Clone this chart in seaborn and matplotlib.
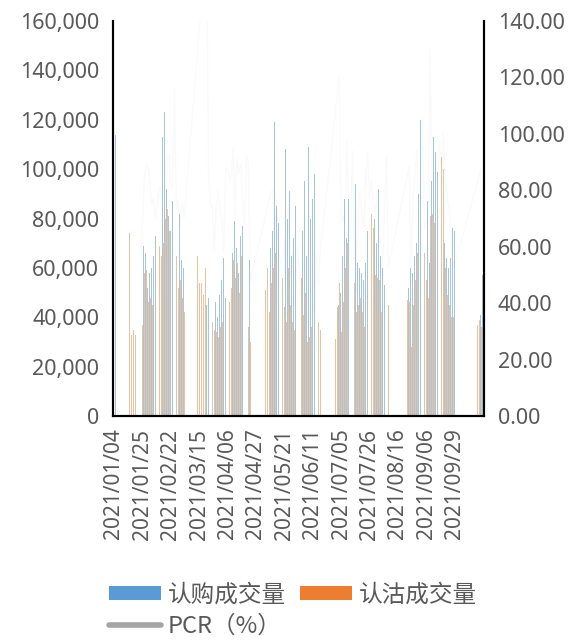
import numpy as np
import pandas as pd
import matplotlib
matplotlib.use("Agg")
import matplotlib.pyplot as plt
import seaborn as sns
from matplotlib.patches import Patch
from matplotlib.lines import Line2D
from matplotlib.ticker import FuncFormatter

sns.set_theme(style="white")
plt.rcParams['font.family'] = ['Noto Sans', 'Noto Sans CJK SC', 'DejaVu Sans']

# ---- trading calendar (SSE 2021) ----
holidays = pd.to_datetime([
    "2021-02-11", "2021-02-12", "2021-02-15", "2021-02-16", "2021-02-17",
    "2021-04-05", "2021-05-03", "2021-05-04", "2021-05-05", "2021-06-14",
    "2021-09-20", "2021-09-21", "2021-10-01", "2021-10-04", "2021-10-05",
    "2021-10-06", "2021-10-07"])
days = pd.bdate_range("2021-01-04", "2021-10-27")
days = days[~days.isin(holidays)]
dates = [d.strftime("%Y/%m/%d") for d in days]

nan = np.nan
# call volume (认购成交量), in thousands
call_k = [
    95, 114, nan, nan, nan, nan, nan, nan, nan, nan,            # 0-9
    nan, nan, nan, nan, 70, 56, 69, 66, 52, 58,                 # 10-19
    60, 65, 73, 70, 85, 80, 113, 123, 92, 81,                   # 20-29
    75, 87, 70, 89, 68, 82, 63, 60, nan, nan,                   # 30-39
    nan, nan, nan, nan, nan, nan, nan, nan, nan, 45,            # 40-49
    48, 48, 51, 60, 46, 40, 49, 55, 64, 48,                     # 50-59
    50, 55, 61, 66, 79, 68, 58, 73, 77, 67,                     # 60-69
    41, 40, 63, nan, nan, nan, nan, nan, nan, nan,              # 70-79
    nan, nan, nan, 68, 75, 119, 85, 78, 92, 103,                # 80-89
    70, 108, 80, 91, 65, 72, 85, 60, 78, 121,                   # 90-99
    75, 95, 65, 109, 80, 88, 98, 70, 82, 60,                    # 100-109
    nan, nan, nan, nan, nan, nan, nan, nan, nan, 45,            # 110-119
    50, 65, 88, 72, 88, 109, 66, 82, 94, 62,                    # 120-129
    60, 58, 55, 62, 75, 110, 98, 100, 80, 70,                   # 130-139
    92, 65, 60, 53, 53, 85, nan, nan, nan, nan,                 # 140-149
    nan, nan, nan, nan, nan, nan, 52, 60, 58, 65,               # 150-159
    70, 90, 120, 72, 100, 80, 87, 62, 95, 113,                  # 160-169
    107, 99, 88, 119, 100, 70, 64, 60, 64, 76,                  # 170-179
    75, nan, nan, nan, nan, nan, nan, nan, nan, nan,            # 180-189
    nan, nan, nan, nan, 41, 57]                                 # 190-195
# put volume (认沽成交量), in thousands
put_k = [
    nan, nan, nan, nan, nan, nan, nan, nan, 74, 33,             # 0-9
    35, 33, 43, 36, 40, 37, 58, 59, 46, 48,                     # 10-19
    45, 50, 51, 53, 69, 65, 70, 80, 84, 75,                     # 20-29
    62, 70, 81, 65, 52, 55, 48, 42, nan, nan,                   # 30-39
    nan, nan, nan, nan, 65, 54, 54, 49, 60, 76,                 # 40-49
    40, 36, 38, 35, 34, 32, 36, 38, 37, 42,                     # 50-59
    44, 46, 52, 63, 56, 62, 50, 65, 58, 45,                     # 60-69
    38, 36, 30, nan, nan, nan, nan, nan, nan, nan,              # 70-79
    51, 60, 42, 54, 60, 66, 66, 46, 50, 56,                     # 80-89
    44, 38, 60, 45, 38, 35, 36, 36, 38, 56,                     # 90-99
    41, 50, 30, 32, 36, 34, 36, 40, 38, 35,                     # 100-109
    nan, nan, nan, nan, nan, nan, 30, 31, 44, 54,               # 110-119
    34, 46, 60, 70, 66, 67, 62, 54, 42, 45,                     # 120-129
    48, 42, 36, 53, 70, 84, 82, 76, 57, 56,                     # 130-139
    55, 42, 30, 40, 49, 45, nan, nan, nan, nan,                 # 140-149
    nan, nan, 78, 88, 141, 47, 46, 28, 45, 55,                  # 150-159
    66, 69, 89, 76, 66, 55, 48, 81, 82, 78,                     # 160-169
    90, 85, 86, 105, 100, 60, 49, 45, 40, 40,                   # 170-179
    40, nan, nan, nan, nan, nan, nan, nan, nan, 40,             # 180-189
    26, 27, 37, 39, 36, 32]                                     # 190-195

call_vol = np.array(call_k, dtype=float) * 1000
put_vol = np.array(put_k, dtype=float) * 1000
pcr = put_vol / call_vol * 100

series_names = ["认购成交量", "认沽成交量"]
line_name = "PCR（%）"
c_call, c_put, c_pcr = "#5B9BD5", "#ED7D31", "#A5A5A5"
bar_call, bar_put = "#6E9EC4", "#DE9A60"

df = pd.DataFrame({
    "date": dates * 2,
    "value": np.concatenate([call_vol, put_vol]),
    "series": [series_names[0]] * len(dates) + [series_names[1]] * len(dates),
}).dropna()

fig = plt.figure(figsize=(5.69, 6.42), dpi=100)
ax = fig.add_axes([113 / 569, 1 - 416 / 642, (484 - 113) / 569, (416 - 21) / 642])

sns.barplot(data=df, x="date", y="value", hue="series", order=dates,
            hue_order=series_names, palette=[bar_call, bar_put], width=0.85,
            gap=0.15, errorbar=None, saturation=1, legend=False, ax=ax,
            alpha=0.6, linewidth=0)

ax2 = ax.twinx()
sns.lineplot(x=np.arange(len(dates)), y=pcr, color=c_pcr, alpha=0.05,
             linewidth=1, ax=ax2)

ax.set_xlim(-0.5, len(dates) - 0.5)
ax.set_ylim(0, 160000)
ax2.set_ylim(0, 140)
ax.set_yticks(np.arange(0, 160001, 20000))
ax2.set_yticks(np.arange(0, 141, 20))
ax.yaxis.set_major_formatter(FuncFormatter(lambda v, p: f"{int(v):,}"))
ax2.yaxis.set_major_formatter(FuncFormatter(lambda v, p: f"{v:.2f}"))

tick_idx = list(range(0, 181, 15))
ax.set_xticks(tick_idx)
ax.set_xticklabels([dates[i] for i in tick_idx], rotation=90)
ax.set_xlabel("")
ax.set_ylabel("")
ax2.set_ylabel("")

lab_color = "#595959"
ax.tick_params(axis="x", length=0, pad=9, labelsize=15, colors=lab_color)
ax.tick_params(axis="y", length=0, pad=10, labelsize=15.5, colors=lab_color)
ax2.tick_params(axis="y", length=0, pad=10, labelsize=15.5, colors=lab_color)

for a in (ax, ax2):
    a.grid(False)
    a.spines["top"].set_visible(False)
    for s in ("left", "right", "bottom"):
        a.spines[s].set_color("black")
        a.spines[s].set_linewidth(1.5)

handles = [Patch(facecolor=c_call, edgecolor="none"),
           Line2D([0], [0], color=c_pcr, linewidth=4, solid_capstyle="round"),
           Patch(facecolor=c_put, edgecolor="none")]
labels = [series_names[0], line_name, series_names[1]]
fig.legend(handles, labels, ncol=2, loc="upper center",
           bbox_to_anchor=(0.515, 0.11), frameon=False,
           prop={"family": ["Noto Sans CJK SC", "DejaVu Sans"], "size": 17},
           labelcolor=lab_color, handlelength=2.2, handleheight=0.55,
           handletextpad=0.3, columnspacing=0.6, labelspacing=0.35,
           borderpad=0)

fig.savefig("out.png", dpi=100)
